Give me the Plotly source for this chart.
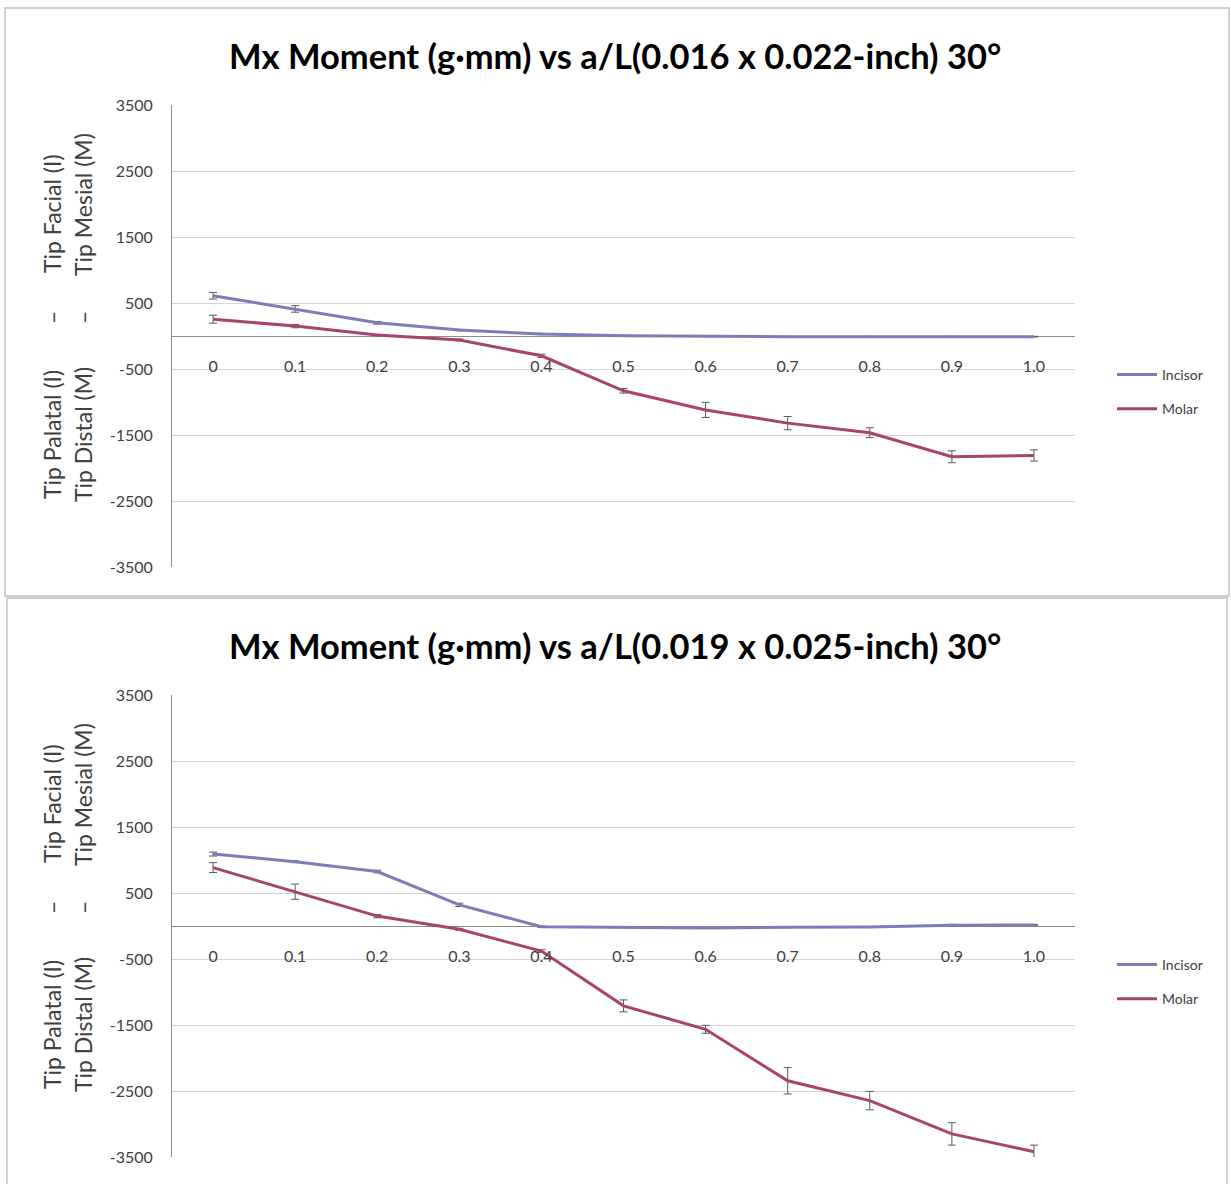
import plotly.graph_objects as go

W, H = 1231, 1184

categories = ["0", "0.1", "0.2", "0.3", "0.4", "0.5", "0.6", "0.7", "0.8", "0.9", "1.0"]
y_ticks = [3500, 2500, 1500, 500, -500, -1500, -2500, -3500]

# Chart 1: 0.016 x 0.022-inch
incisor_1 = [610, 410, 200, 90, 30, 5, -5, -10, -10, -10, -10]
incisor_1_err = [50, 50, 20, 10, 10, 5, 5, 5, 5, 5, 5]
molar_1 = [255, 150, 15, -60, -300, -830, -1120, -1320, -1465, -1830, -1810]
molar_1_err = [60, 25, 10, 15, 25, 35, 115, 100, 75, 90, 85]

# Chart 2: 0.019 x 0.025-inch
incisor_2 = [1090, 975, 825, 320, -10, -15, -30, -20, -15, 10, 15]
incisor_2_err = [30, 15, 20, 25, 10, 5, 5, 5, 5, 15, 10]
molar_2 = [885, 520, 150, -50, -380, -1210, -1565, -2345, -2645, -3150, -3420]
molar_2_err = [75, 115, 25, 15, 20, 90, 60, 200, 140, 170, 100]

titles = ["Mx Moment (g\u00b7mm) vs a/L(0.016 x 0.022-inch) 30\u00b0",
          "Mx Moment (g\u00b7mm) vs a/L(0.019 x 0.025-inch) 30\u00b0"]

INC_COLOR = "#7A7DB9"
MOL_COLOR = "#A8436F"
ERR_COLOR = "#5a5a5a"
FONT = "Lato"
TXT = "#404040"


def px(x):
    return x / W


def py(y):
    return 1 - y / H


fig = go.Figure()

charts = [
    (incisor_1, incisor_1_err, molar_1, molar_1_err, "", "legend"),
    (incisor_2, incisor_2_err, molar_2, molar_2_err, "2", "legend2"),
]

for inc, inc_e, mol, mol_e, ax, leg in charts:
    xa = "x" + ax
    ya = "y" + ax
    fig.add_trace(go.Scatter(
        x=categories, y=inc, name="Incisor", mode="lines",
        line=dict(color=INC_COLOR, width=3),
        error_y=dict(type="data", array=inc_e, visible=True, color=ERR_COLOR, thickness=1, width=4),
        xaxis=xa, yaxis=ya, legend=leg, legendgroup="inc" + ax))
    fig.add_trace(go.Scatter(
        x=categories, y=mol, name="Molar", mode="lines",
        line=dict(color=MOL_COLOR, width=3),
        error_y=dict(type="data", array=mol_e, visible=True, color=ERR_COLOR, thickness=1, width=4),
        xaxis=xa, yaxis=ya, legend=leg, legendgroup="mol" + ax))

offset = 590  # pixel offset between the two charts
plot_left, plot_right = 172, 1075
layout = dict(
    width=W, height=H,
    margin=dict(l=0, r=0, t=0, b=0, autoexpand=False),
    paper_bgcolor="white", plot_bgcolor="white",
    font=dict(family=FONT, color=TXT),
    showlegend=True,
)

annotations = []
shapes = []
for i, ax in enumerate(["", "2"]):
    off = offset * i
    top, bot = 105 + off, 567 + off
    zero_y = 336 + off
    xkey = "xaxis" + ax
    ykey = "yaxis" + ax
    layout[ykey] = dict(
        domain=[py(bot), py(top)], range=[-3500, 3500],
        tickvals=y_ticks, ticktext=[str(v) for v in y_ticks],
        showgrid=True, gridcolor="#d4d4d4", gridwidth=1,
        zeroline=True, zerolinecolor="#8c8c8c", zerolinewidth=1,
        showline=True, linecolor="#8c8c8c", linewidth=1,
        ticks="outside", ticklen=15, tickcolor="rgba(0,0,0,0)",
        tickfont=dict(size=16, color=TXT, family=FONT),
        anchor="x" + ax, fixedrange=True, automargin=False,
    )
    layout[xkey] = dict(
        domain=[px(plot_left), px(plot_right)], type="category",
        categoryorder="array", categoryarray=categories,
        range=[-0.5, 10.5], showgrid=False, zeroline=False, showline=False,
        anchor="free", position=py(zero_y),
        ticks="outside", ticklen=16, tickcolor="rgba(0,0,0,0)",
        tickfont=dict(size=16, color=TXT, family=FONT), fixedrange=True,
        automargin=False,
    )
    leg = "legend" if i == 0 else "legend2"
    layout[leg] = dict(
        x=px(1112), y=py(359 + off), xanchor="left", yanchor="top",
        font=dict(size=14, color=TXT, family=FONT),
        bgcolor="rgba(0,0,0,0)", tracegroupgap=13, itemwidth=40,
    )
    # chart title
    annotations.append(dict(
        text="<b>" + titles[i] + "</b>", x=px(615), y=py(55 + off),
        xref="paper", yref="paper", showarrow=False,
        font=dict(size=34.5, color="#000000", family=FONT), xanchor="center", yanchor="middle"))
    # y-axis title pieces (two rotated lines)
    pieces = [
        ("Tip Facial (I)", 52, 214), ("\u2013", 52, 318), ("Tip Palatal (I)", 52, 435),
        ("Tip Mesial (M)", 83, 205), ("\u2013", 83, 318), ("Tip Distal (M)", 83, 435),
    ]
    for t, xx, yy in pieces:
        annotations.append(dict(
            text=t, x=px(xx), y=py(yy + off), xref="paper", yref="paper",
            showarrow=False, textangle=-90, xanchor="center", yanchor="middle",
            font=dict(size=23, color=TXT, family=FONT)))
    # chart border
    if i == 0:
        shapes.append(dict(type="rect", xref="paper", yref="paper",
                           x0=px(5), x1=px(1229), y0=py(596), y1=py(8),
                           line=dict(color="#cfcfcf", width=2)))
    else:
        shapes.append(dict(type="rect", xref="paper", yref="paper",
                           x0=px(7), x1=px(1227), y0=py(1186), y1=py(598),
                           line=dict(color="#cfcfcf", width=2)))

layout["annotations"] = annotations
layout["shapes"] = shapes
fig.update_layout(**layout)

fig.write_html(
    "out.html",
    config={"displayModeBar": False},
    post_script="document.body.style.margin='0px';document.body.style.overflow='hidden';",
)
